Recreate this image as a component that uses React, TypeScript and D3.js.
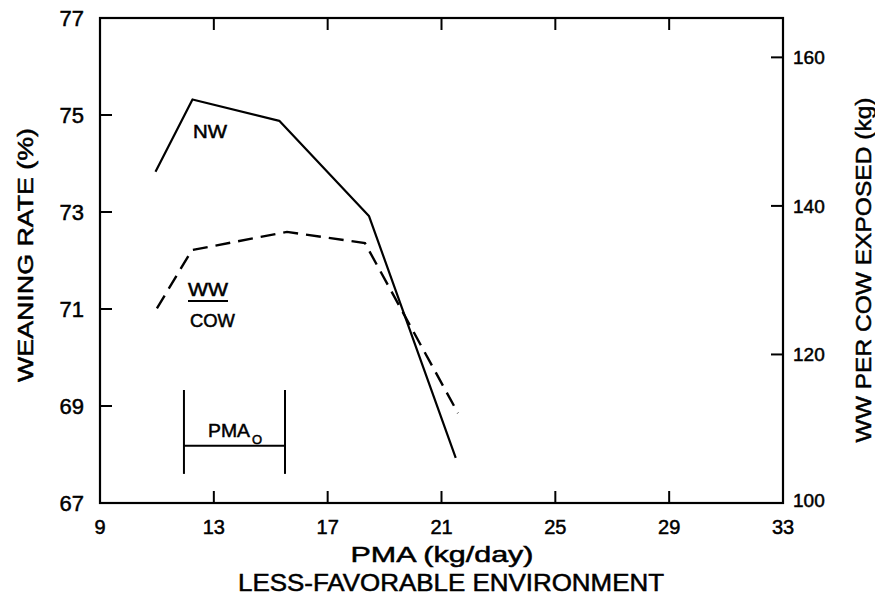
import React from "react";
import * as d3 from "d3";

const pmaNW = [10.95, 12.25, 15.3, 18.45, 21.5];
const nwValues = [73.83, 75.32, 74.88, 72.92, 67.93];
const pmaWW = [11.0, 12.23, 15.57, 18.31, 21.58];
const wwValues = [126.2, 134.05, 136.5, 135.0, 112.1];
const xTicks = [9, 13, 17, 21, 25, 29, 33];
const leftTicks = [67, 69, 71, 73, 75, 77];
const rightTicks = [100, 120, 140, 160];
const pmaRange = [11.95, 15.5];
const pmaBracketY = [69.33, 68.18, 67.6];

const W = 875;
const H = 606;
const X0 = 100, X1 = 783, Y0 = 18, Y1 = 503;
const FONT = "'Liberation Sans', Arial, sans-serif";

export default function App() {
  const x = d3.scaleLinear().domain([9, 33]).range([X0, X1]);
  const yL = d3.scaleLinear().domain([67, 77]).range([Y1, Y0]);
  const yR = d3.scaleLinear().domain([100, 165.3]).range([Y1, Y0]);

  const nwLine = d3
    .line<number>()
    .x((_, i) => x(pmaNW[i]))
    .y((d) => yL(d));
  const wwLine = d3
    .line<number>()
    .x((_, i) => x(pmaWW[i]))
    .y((d) => yR(d));

  const tl = 12;
  const ts = { fill: "#000", stroke: "#000", strokeWidth: 0.5 };
  return (
    <div style={{ position: "fixed", left: 0, top: 0 }}>
      <svg width={W} height={H} style={{ display: "block", background: "#fff" }} fontFamily={FONT}>
        <rect x={0} y={0} width={W} height={H} fill="#fff" />
        {/* frame */}
        <rect x={X0} y={Y0} width={X1 - X0} height={Y1 - Y0} fill="none" stroke="#000" strokeWidth={2.2} />
        {/* bottom & top ticks */}
        {xTicks.map((t) => (
          <g key={"x" + t}>
            {t > 9 && t < 33 && (
              <>
                <line x1={x(t)} x2={x(t)} y1={Y1} y2={Y1 - tl} stroke="#000" strokeWidth={2} />
                <line x1={x(t)} x2={x(t)} y1={Y0} y2={Y0 + tl} stroke="#000" strokeWidth={2} />
              </>
            )}
            <text x={x(t)} y={534} textAnchor="middle" fontSize={20} {...ts}>
              {t}
            </text>
          </g>
        ))}
        {/* left ticks */}
        {leftTicks.map((t) => (
          <g key={"l" + t}>
            {t > 67 && t < 77 && (
              <line x1={X0} x2={X0 + tl} y1={yL(t)} y2={yL(t)} stroke="#000" strokeWidth={2} />
            )}
            <text x={84} y={yL(t)} dy="0.36em" textAnchor="end" fontSize={22} {...ts}>
              {t}
            </text>
          </g>
        ))}
        {/* right ticks */}
        {rightTicks.map((t) => (
          <g key={"r" + t}>
            {t > 100 && (
              <line x1={X1} x2={X1 - tl} y1={yR(t)} y2={yR(t)} stroke="#000" strokeWidth={2} />
            )}
            <text x={793} y={yR(t) - (t === 100 ? 3 : 0)} dy="0.36em" textAnchor="start" fontSize={19} {...ts}>
              {t}
            </text>
          </g>
        ))}
        {/* lines */}
        <path d={nwLine(nwValues) || ""} fill="none" stroke="#000" strokeWidth={2.2} strokeLinejoin="round" />
        <path d={wwLine(wwValues) || ""} fill="none" stroke="#000" strokeWidth={2.4} strokeDasharray="15,8" />
        {/* line labels */}
        <text x={193} y={138} fontSize={18} textLength={34} lengthAdjust="spacingAndGlyphs" {...ts}>
          NW
        </text>
        <text x={188} y={296} fontSize={18} textLength={40} lengthAdjust="spacingAndGlyphs" {...ts}>
          WW
        </text>
        <line x1={188} x2={228} y1={301} y2={301} stroke="#000" strokeWidth={2} />
        <text x={190} y={327} fontSize={18} textLength={45} lengthAdjust="spacingAndGlyphs" {...ts}>
          COW
        </text>
        {/* PMA0 bracket */}
        <line x1={x(pmaRange[0])} x2={x(pmaRange[0])} y1={yL(pmaBracketY[0])} y2={yL(pmaBracketY[2])} stroke="#000" strokeWidth={2} />
        <line x1={x(pmaRange[1])} x2={x(pmaRange[1])} y1={yL(pmaBracketY[0])} y2={yL(pmaBracketY[2])} stroke="#000" strokeWidth={2} />
        <line x1={x(pmaRange[0])} x2={x(pmaRange[1])} y1={yL(pmaBracketY[1])} y2={yL(pmaBracketY[1])} stroke="#000" strokeWidth={2} />
        <text x={208} y={437} fontSize={19} textLength={42} lengthAdjust="spacingAndGlyphs" {...ts}>
          PMA
        </text>
        <text x={252} y={444} fontSize={13} {...ts}>
          O
        </text>
        {/* axis titles */}
        <text
          transform={`translate(25,255) rotate(-90)`}
          textAnchor="middle"
          dy="0.36em"
          fontSize={22}
          textLength={254}
          lengthAdjust="spacingAndGlyphs"
          {...ts}
        >
          WEANING RATE (%)
        </text>
        <text
          transform={`translate(863,270) rotate(-90)`}
          textAnchor="middle"
          dy="0.36em"
          fontSize={22}
          textLength={345}
          lengthAdjust="spacingAndGlyphs"
          {...ts}
        >
          WW PER COW EXPOSED (kg)
        </text>
        <text x={442} y={562} textAnchor="middle" fontSize={22} textLength={183} lengthAdjust="spacingAndGlyphs" {...ts}>
          PMA (kg/day)
        </text>
        <text x={451} y={591} textAnchor="middle" fontSize={23} textLength={426} lengthAdjust="spacingAndGlyphs" {...ts}>
          LESS-FAVORABLE ENVIRONMENT
        </text>
      </svg>
    </div>
  );
}
